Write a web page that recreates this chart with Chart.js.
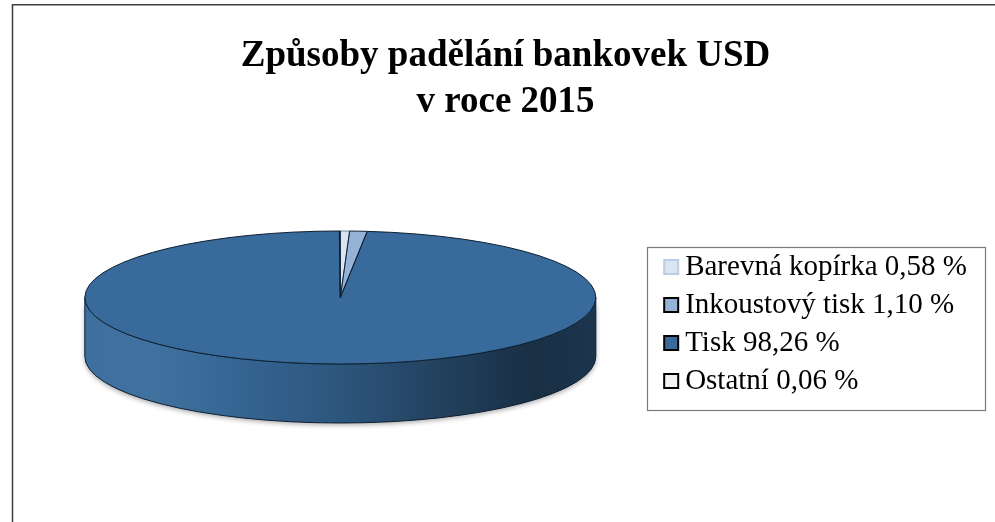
<!DOCTYPE html>
<html>
<head>
<meta charset="utf-8">
<script src="https://cdn.jsdelivr.net/npm/chart.js@4/dist/chart.umd.min.js"></script>
<style>
html,body{margin:0;padding:0;background:#fff;overflow:hidden}
#wrap{position:relative;width:995px;height:522px}
</style>
</head>
<body>
<div id="wrap"><canvas id="c" width="995" height="522"></canvas></div>
<script>
const titleLines = ['Způsoby padělání bankovek USD', 'v roce 2015'];
const categories = ['Barevná kopírka 0,58 %', 'Inkoustový tisk 1,10 %', 'Tisk 98,26 %', 'Ostatní 0,06 %'];
const shares = [0.58, 1.10, 98.26, 0.06];
const sliceColors = ['#dbe5f1', '#95b3d7', '#386b9b', '#f2f2f2'];
const legendBorders = ['#b9cde5', '#000000', '#000000', '#000000'];

function markerCanvas(fill, stroke) {
  const c = document.createElement('canvas');
  c.width = 34; c.height = 16;
  const g = c.getContext('2d');
  g.fillStyle = fill;
  g.fillRect(17, 0, 16, 16);
  g.strokeStyle = stroke;
  g.lineWidth = 2;
  g.strokeRect(18, 1, 14, 14);
  return c;
}

const frame = {
  id: 'frame',
  beforeDraw(chart) {
    const ctx = chart.ctx;
    ctx.save();
    ctx.fillStyle = '#ffffff';
    ctx.fillRect(0, 0, chart.width, chart.height);
    ctx.strokeStyle = '#3f3f3f';
    ctx.lineWidth = 1.5;
    ctx.strokeRect(12.5, 4.75, 1200, 1000);
    ctx.restore();
  }
};

const pie3d = {
  id: 'pie3d',
  beforeDatasetsDraw(chart, args, opts) {
    const arcs = chart.getDatasetMeta(0).data;
    if (!arcs.length) return;
    const ctx = chart.ctx;
    const cx = arcs[0].x, cy = arcs[0].y, r = arcs[0].outerRadius;
    const rx = opts.rx, ry = opts.ry, d = opts.depth;
    arcs.forEach((arc, i) => {
      const a = arc.startAngle, b = arc.endAngle;
      [-2, 0, 2].forEach(k => {
        const s = Math.max(a + k * Math.PI, 0);
        const e = Math.min(b + k * Math.PI, Math.PI);
        if (e <= s) return;
        const path = () => {
          ctx.beginPath();
          ctx.ellipse(cx, cy, rx, ry, 0, s, e, false);
          ctx.ellipse(cx, cy + d, rx, ry, 0, e, s, true);
          ctx.closePath();
        };
        ctx.save();
        path();
        ctx.shadowColor = 'rgba(0,0,0,0.35)';
        ctx.shadowBlur = 5;
        ctx.shadowOffsetY = 2;
        ctx.fillStyle = sliceColors[i];
        ctx.fill();
        ctx.restore();
        ctx.save();
        path();
        const g = ctx.createLinearGradient(cx - rx, 0, cx + rx, 0);
        g.addColorStop(0, 'rgba(255,255,255,0.03)');
        g.addColorStop(0.12, 'rgba(255,255,255,0.04)');
        g.addColorStop(0.3, 'rgba(0,0,0,0.06)');
        g.addColorStop(0.5, 'rgba(0,0,0,0.2)');
        g.addColorStop(0.7, 'rgba(0,0,0,0.4)');
        g.addColorStop(0.88, 'rgba(0,0,0,0.56)');
        g.addColorStop(1, 'rgba(0,0,0,0.5)');
        ctx.fillStyle = g;
        ctx.fill();
        ctx.strokeStyle = '#0f2133';
        ctx.lineWidth = 1;
        ctx.stroke();
        ctx.restore();
      });
    });
    ctx.save();
    ctx.translate(cx, cy);
    ctx.scale(rx / r, ry / r);
    ctx.translate(-cx, -cy);
  },
  afterDatasetsDraw(chart, args, opts) {
    const arcs = chart.getDatasetMeta(0).data;
    if (!arcs.length) return;
    const ctx = chart.ctx;
    ctx.restore();
    const cx = arcs[0].x, cy = arcs[0].y;
    const rx = opts.rx, ry = opts.ry;
    ctx.save();
    arcs.forEach((arc, i) => {
      ctx.beginPath();
      ctx.moveTo(cx, cy);
      ctx.ellipse(cx, cy, rx, ry, 0, arc.startAngle, arc.endAngle, false);
      ctx.closePath();
      ctx.strokeStyle = i === 0 ? 'rgba(40,60,90,0.6)' : '#0f2133';
      ctx.lineWidth = 1;
      ctx.stroke();
    });
    ctx.restore();
  }
};

const legendFrame = {
  id: 'legendFrame',
  afterDraw(chart) {
    const lg = chart.legend;
    if (!lg || !lg.legendHitBoxes || !lg.legendHitBoxes.length) return;
    const hb = lg.legendHitBoxes;
    const first = hb[0], last = hb[hb.length - 1];
    const ctx = chart.ctx;
    const x0 = Math.round(lg.left) + 0.5;
    const y0 = Math.round(first.top - 6) + 0.5;
    const x1 = Math.round(lg.right + 8) + 0.5;
    const y1 = Math.round(last.top + last.height + 14) + 0.5;
    ctx.save();
    ctx.strokeStyle = '#7a7a7a';
    ctx.lineWidth = 1.2;
    ctx.strokeRect(x0, y0, x1 - x0, y1 - y0);
    ctx.restore();
  }
};

new Chart(document.getElementById('c'), {
  type: 'pie',
  data: {
    labels: categories,
    datasets: [{
      data: shares,
      backgroundColor: sliceColors,
      borderWidth: 0,
      clip: false
    }]
  },
  options: {
    responsive: false,
    animation: false,
    events: [],
    rotation: 0,
    layout: { padding: { left: 34, right: 18, top: 0, bottom: 62 } },
    plugins: {
      tooltip: { enabled: false },
      title: {
        display: true,
        text: titleLines,
        color: '#000000',
        font: { family: "'Liberation Serif', 'Times New Roman', serif", size: 37, weight: 'bold', lineHeight: 1.243 },
        padding: { top: 33, bottom: 10 }
      },
      legend: {
        position: 'right',
        align: 'start',
        title: { display: true, text: '', padding: { top: 229.1, bottom: 0 }, font: { size: 12, lineHeight: 1.2 } },
        labels: {
          color: '#000000',
          font: { family: "'Liberation Serif', 'Times New Roman', serif", size: 29 },
          boxWidth: 15,
          boxHeight: 15,
          padding: 9,
          usePointStyle: true,
          generateLabels(chart) {
            const base = Chart.overrides.doughnut.plugins.legend.labels.generateLabels(chart);
            return base.map((it, i) => Object.assign(it, {
              strokeStyle: legendBorders[i],
              lineWidth: 2,
              pointStyle: markerCanvas(sliceColors[i], legendBorders[i])
            }));
          }
        }
      },
      pie3d: { rx: 255.5, ry: 66.5, depth: 59 }
    }
  },
  plugins: [frame, pie3d, legendFrame]
});
</script>
</body>
</html>
